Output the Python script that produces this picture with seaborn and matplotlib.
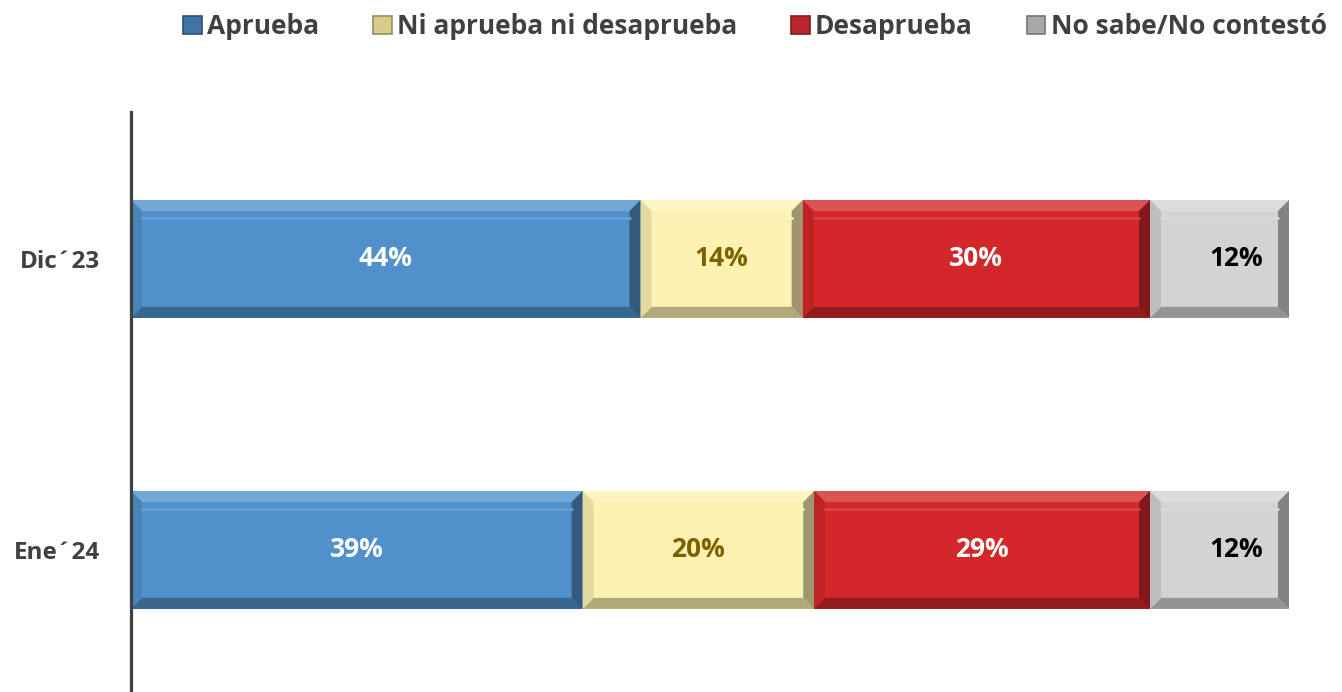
import numpy as np
import pandas as pd
import matplotlib
matplotlib.use("Agg")
import matplotlib.pyplot as plt
import matplotlib.colors as mcolors
from matplotlib.patches import Patch
import seaborn as sns

periods = ["Dic´23", "Ene´24"]
aprueba = [44, 39]
ni_ni = [14, 20]
desaprueba = [30, 29]
no_sabe = [12, 12]

series_names = ["Aprueba", "Ni aprueba ni desaprueba", "Desaprueba", "No sabe/No contestó"]
series_vals = [aprueba, ni_ni, desaprueba, no_sabe]
bar_colors = ["#5191CB", "#FDF2B1", "#D4272A", "#D3D3D3"]
legend_colors = ["#3F74A8", "#D9CC8A", "#B8262A", "#A8A8A8"]
text_colors = ["white", "#7F6000", "white", "black"]

sns.set_style("white")
plt.rcParams["font.family"] = ["Open Sans", "DejaVu Sans"]

fig = plt.figure(figsize=(13.42, 6.92), dpi=100)
ax = fig.add_axes([131 / 1342, 0.0, (1289 - 131) / 1342, 1 - 112 / 692])

vals = np.array(series_vals, dtype=float)
cum = vals.cumsum(axis=0)
lefts = cum - vals
bar_h = 0.405

# stacked bars: draw cumulative totals from the back to the front
for i in reversed(range(len(series_names))):
    df = pd.DataFrame({"period": periods, "value": cum[i]})
    sns.barplot(data=df, x="value", y="period", orient="h", color=bar_colors[i],
                width=bar_h, saturation=1, ax=ax, linewidth=0)

ax.set_xlim(0, 100)
ax.set_ylim(1.488, -0.505)


def shade(c, f):
    r = np.array(mcolors.to_rgb(c))
    if f > 0:
        r = r + (1 - r) * f
    else:
        r = r * (1 + f)
    return np.clip(r, 0, 1)


# bevel look on every segment
dx, dy = 0.95, 0.038
for i in range(len(series_names)):
    for j in range(len(periods)):
        x0, x1 = lefts[i, j], cum[i, j]
        y0, y1 = j - bar_h / 2, j + bar_h / 2  # y0 is the top (inverted axis)
        c = bar_colors[i]
        ax.fill([x0, x1, x1 - dx, x0 + dx], [y0, y0, y0 + dy, y0 + dy],
                color=shade(c, 0.2), lw=0, zorder=3)
        ax.fill([x0, x1, x1 - dx, x0 + dx], [y1, y1, y1 - dy, y1 - dy],
                color=shade(c, -0.3), lw=0, zorder=3)
        ax.fill([x0, x0 + dx, x0 + dx, x0], [y0, y0 + dy, y1 - dy, y1],
                color=shade(c, -0.1), lw=0, zorder=3)
        ax.fill([x1, x1 - dx, x1 - dx, x1], [y0, y0 + dy, y1 - dy, y1],
                color=shade(c, -0.38), lw=0, zorder=3)
        ax.plot([x0 + dx, x1 - dx], [y0 + dy * 1.6, y0 + dy * 1.6],
                color=shade(c, 0.12), lw=2, zorder=3)

# value labels
for i in range(len(series_names)):
    for j in range(len(periods)):
        xc = lefts[i, j] + vals[i, j] / 2
        off = 12 if i == 3 else 0
        ax.annotate(f"{int(vals[i, j])}%", (xc, j), xytext=(off, 0),
                    textcoords="offset points", ha="center", va="center",
                    fontsize=19, fontweight="bold", color=text_colors[i], zorder=5)

ax.set_xlabel("")
ax.set_ylabel("")
ax.set_xticks([])
ax.tick_params(axis="y", length=0, pad=22)
for lab in ax.get_yticklabels():
    lab.set_fontsize(17.5)
    lab.set_fontweight("bold")
    lab.set_color("#404040")

for side in ["top", "right", "bottom"]:
    ax.spines[side].set_visible(False)
ax.spines["left"].set_color("#404040")
ax.spines["left"].set_linewidth(2.3)
ax.spines["left"].set_zorder(6)

handles = [Patch(facecolor=legend_colors[i], edgecolor=shade(legend_colors[i], -0.3), linewidth=1.2)
           for i in range(len(series_names))]
leg = fig.legend(handles, series_names, loc="upper center", bbox_to_anchor=(0.5625, 1.015),
                 ncol=4, frameon=False, handlelength=0.7, handleheight=0.7,
                 handletextpad=0.2, columnspacing=2.05,
                 prop={"size": 19, "weight": "bold"})
for t in leg.get_texts():
    t.set_color("#404040")

fig.savefig("out.png", dpi=100)
